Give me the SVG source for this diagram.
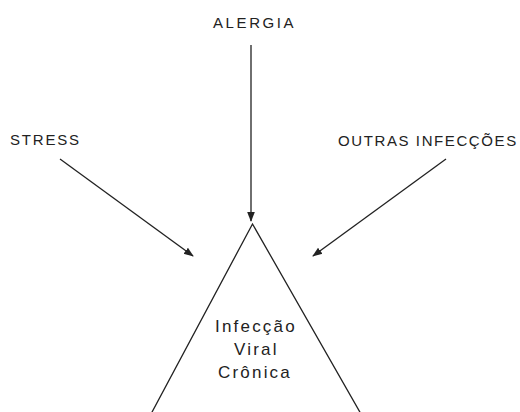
<svg xmlns="http://www.w3.org/2000/svg" width="520" height="412" viewBox="0 0 520 412">
<style>
.lbl{font-family:"Liberation Sans",Arial,sans-serif;font-size:15px;fill:#222;letter-spacing:1.8px}
.in{font-family:"Liberation Sans",Arial,sans-serif;font-size:17px;fill:#222;letter-spacing:2.2px}
.c{stroke:#222;stroke-width:1.3;fill:none}
</style>
<defs>
<marker id="ah" viewBox="0 0 10 10" refX="9" refY="5" markerWidth="10" markerHeight="10" markerUnits="userSpaceOnUse" orient="auto">
<path d="M0,1.2 L10,5 L0,8.8 Z" fill="#222"/>
</marker>
</defs>
<rect width="520" height="412" fill="#fff"/>
<g id="alergia"><text class="lbl" x="213" y="28" style="letter-spacing:2.6px">ALERGIA</text></g>
<g id="stress"><text class="lbl" x="10" y="145">STRESS</text></g>
<g id="outras"><text class="lbl" x="338" y="146" style="letter-spacing:1.6px">OUTRAS INFECÇÕES</text></g>
<g id="infeccao">
<polygon class="c" points="252.5,224 151,414 361,414"/>
<text class="in" x="215" y="332">Infecção</text>
<text class="in" x="234" y="355">Viral</text>
<text class="in" x="218" y="378">Crônica</text>
</g>
<g id="connectors">
<line class="c" x1="251" y1="45" x2="251" y2="221" marker-end="url(#ah)"/>
<line class="c" x1="60" y1="159" x2="193" y2="256" marker-end="url(#ah)"/>
<line class="c" x1="446" y1="159" x2="313" y2="256" marker-end="url(#ah)"/>
</g>
</svg>
